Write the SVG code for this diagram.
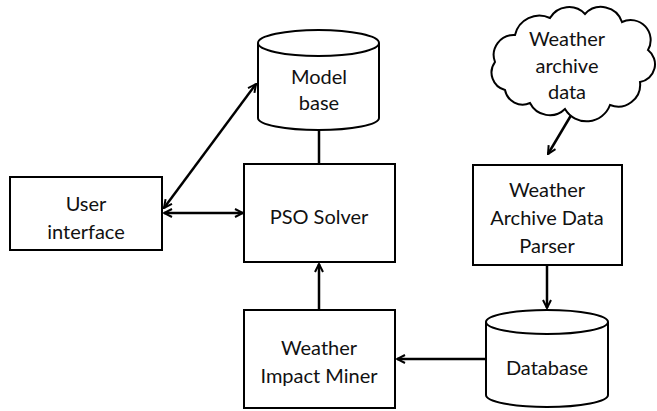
<svg xmlns="http://www.w3.org/2000/svg" width="657" height="411" viewBox="0 0 657 411">
<style>
.box{fill:#fff;stroke:#000;stroke-width:2}
.sh{fill:none;stroke:#bbb;stroke-width:2}
.t{font-family:Lato,"Open Sans",sans-serif;font-size:20px;fill:#111;text-anchor:middle}
.c{fill:none;stroke:#000;stroke-width:2.5}
</style>
<defs>
<marker id="ah" viewBox="0 0 10 10" refX="9" refY="5" markerWidth="4" markerHeight="4" orient="auto-start-reverse" markerUnits="strokeWidth">
<path d="M1,1 L9,5 L1,9" fill="none" stroke="#000" stroke-width="2"/>
</marker>
</defs>
<rect width="657" height="411" fill="#fff"/>
<g id="connectors">
<line class="c" x1="319" y1="131" x2="319" y2="164"/>
<line class="c" x1="164" y1="208" x2="256" y2="84" marker-start="url(#ah)" marker-end="url(#ah)"/>
<line class="c" x1="164" y1="213" x2="243" y2="213" marker-start="url(#ah)" marker-end="url(#ah)"/>
<line class="c" x1="319" y1="309" x2="319" y2="264" marker-end="url(#ah)"/>
<line class="c" x1="486" y1="359" x2="397" y2="359" marker-end="url(#ah)"/>
<line class="c" x1="547" y1="266" x2="547" y2="308" marker-end="url(#ah)"/>
<line class="c" x1="573" y1="112" x2="548" y2="154" marker-end="url(#ah)"/>
</g>
<g id="model-base">
<path class="box" d="M258,43 L258,118 A60.5,12 0 0 0 379,118 L379,43 A60.5,13 0 0 0 258,43 A60.5,13 0 0 0 379,43"/>
<text class="t" x="319" y="84">Model</text>
<text class="t" x="319" y="110">base</text>
</g>
<g id="user-interface">
<rect class="box" x="10" y="177" width="152" height="73"/>
<text class="t" x="86" y="211">User</text>
<text class="t" x="86" y="239">interface</text>
</g>
<g id="pso-solver">
<rect class="box" x="244" y="164" width="151" height="98"/>
<text class="t" x="319" y="224">PSO Solver</text>
</g>
<g id="weather-archive-data">
<path class="box" d="M505,90 A18,18 0 0 1 495,62 A20,20 0 0 1 515,35 A25,25 0 0 1 550,18 A22,22 0 0 1 585,14 A22,22 0 0 1 622,22 A20,20 0 0 1 648,50 A18,18 0 0 1 640,82 A22,22 0 0 1 610,105 A25,25 0 0 1 565,109 A22,22 0 0 1 530,103 A18,18 0 0 1 505,90 Z"/>
<text class="t" x="567" y="46">Weather</text>
<text class="t" x="567" y="73">archive</text>
<text class="t" x="567" y="99">data</text>
</g>
<g id="parser">
<rect class="box" x="473" y="165" width="149" height="100"/>
<text class="t" x="547" y="197">Weather</text>
<text class="t" x="547" y="225">Archive Data</text>
<text class="t" x="547" y="253">Parser</text>
</g>
<g id="database">
<path class="box" d="M486,322 L486,395 A61,12 0 0 0 608,395 L608,322 A61,12 0 0 0 486,322 A61,12 0 0 0 608,322"/>
<text class="t" x="547" y="375">Database</text>
</g>
<g id="impact-miner">
<rect class="box" x="244" y="310" width="151" height="98"/>
<text class="t" x="319" y="355">Weather</text>
<text class="t" x="319" y="383">Impact Miner</text>
</g>
</svg>
